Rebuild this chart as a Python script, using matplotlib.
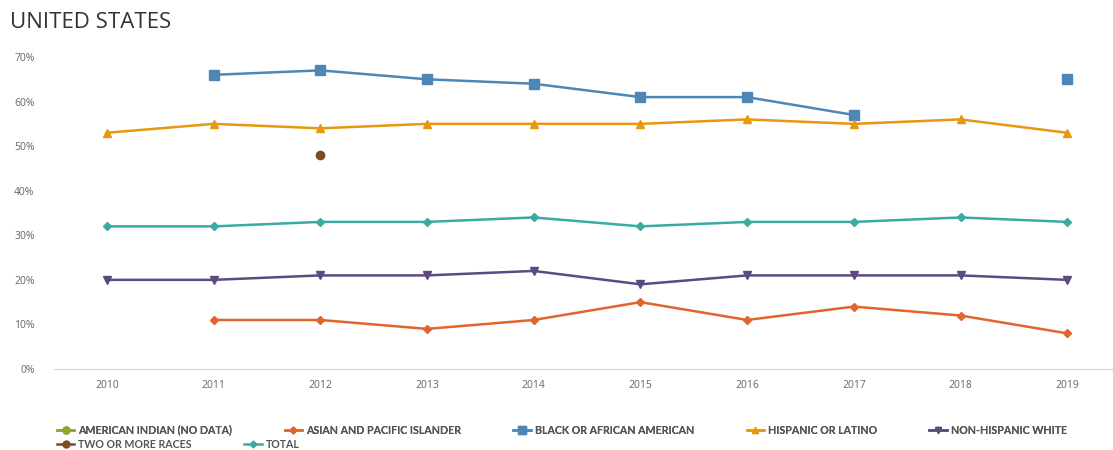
import numpy as np
import matplotlib.pyplot as plt
from matplotlib.lines import Line2D

years = ['2010', '2011', '2012', '2013', '2014', '2015', '2016', '2017', '2018', '2019']
nan = np.nan

american_indian = [nan] * 10
asian_pi = [nan, 11, 11, 9, 11, 15, 11, 14, 12, 8]
black = [nan, 66, 67, 65, 64, 61, 61, 57, nan, 65]
hispanic = [53, 55, 54, 55, 55, 55, 56, 55, 56, 53]
nh_white = [20, 20, 21, 21, 22, 19, 21, 21, 21, 20]
two_more = [nan, nan, 48, nan, nan, nan, nan, nan, nan, nan]
total = [32, 32, 33, 33, 34, 32, 33, 33, 34, 33]

series = [
    ('AMERICAN INDIAN (NO DATA)', american_indian, '#8ea52e', 'o', 6),
    ('ASIAN AND PACIFIC ISLANDER', asian_pi, '#e2652b', 'D', 4.5),
    ('BLACK OR AFRICAN AMERICAN', black, '#4e87b7', 's', 6.5),
    ('HISPANIC OR LATINO', hispanic, '#e8980f', '^', 6),
    ('NON-HISPANIC WHITE', nh_white, '#5c4a82', 'v', 6),
    ('TWO OR MORE RACES', two_more, '#7b4d20', 'o', 6),
    ('TOTAL', total, '#3aaba3', 'D', 4.5),
]

fig = plt.figure(figsize=(11.13, 4.5), dpi=100)
ax = fig.add_axes([54 / 1113, 81 / 450, 1058 / 1113, 312 / 450])

x = np.arange(len(years))
handles = []
for name, vals, col, mk, ms in series:
    ax.plot(x, vals, color=col, lw=1.8, marker=mk, markersize=ms, clip_on=False)
    handles.append(Line2D([], [], color=col, lw=1.8, marker=mk, markersize=ms - 1, label=name))

ax.set_xlim(-0.497, 9.42)
ax.set_ylim(0, 70)
ax.set_xticks(x)
ax.set_xticklabels(years)
ax.set_yticks(range(0, 71, 10))
ax.set_yticklabels([f'{v}%' for v in range(0, 71, 10)])
for s in ['top', 'right', 'left']:
    ax.spines[s].set_visible(False)
ax.spines['bottom'].set_color('#ccd6eb')
ax.tick_params(axis='both', length=0, labelsize=7.5, colors='#666666')
ax.tick_params(axis='y', pad=14)
ax.tick_params(axis='x', pad=8)
for lab in ax.get_xticklabels() + ax.get_yticklabels():
    lab.set_family('Open Sans')

fig.text(10 / 1113, 1 - 22 / 450, 'UNITED STATES', fontsize=16, family='Open Sans',
         color='#333333', va='center', ha='left')

leg_font = {'family': 'Lato', 'weight': 'bold', 'size': 7.7}
leg1 = fig.legend(handles=handles[:5], loc='center left', bbox_to_anchor=(57 / 1113, 1 - 430 / 450),
                  ncol=5, frameon=False, prop=leg_font, handlelength=1.6, handletextpad=0.4,
                  columnspacing=4.9, borderpad=0, borderaxespad=0)
leg2 = fig.legend(handles=handles[5:], loc='center left', bbox_to_anchor=(57 / 1113, 1 - 444 / 450),
                  ncol=2, frameon=False, prop=leg_font, handlelength=1.6, handletextpad=0.4,
                  columnspacing=4.9, borderpad=0, borderaxespad=0)
fig.add_artist(leg1)
for leg in (leg1, leg2):
    for t in leg.get_texts():
        t.set_color('#555555')

fig.savefig('out.png', dpi=100)
